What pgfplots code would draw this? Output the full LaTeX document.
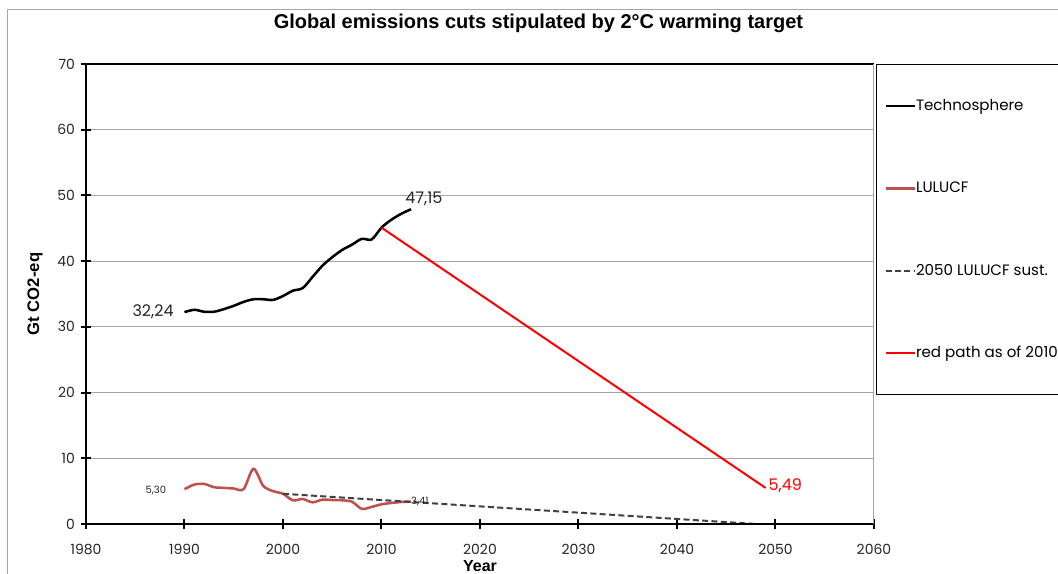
\documentclass[border=0pt]{standalone}
\usepackage{pgfplots}
\pgfplotsset{compat=1.18}
\usepackage{fontspec}
\setmainfont{Poppins}
\newfontfamily\arialfont{Liberation Sans}
\definecolor{lul}{HTML}{C0504D}
\definecolor{gridgray}{HTML}{A6A6A6}
\definecolor{dashgray}{HTML}{404040}
\begin{document}
\begin{tikzpicture}[x=1pt,y=1pt]
\useasboundingbox (0,0) rectangle (793.5,430.5);
\clip (0,0) rectangle (793.5,430.5);
\draw[gridgray, line width=0.75pt] (5.25,-10) rectangle (820,423);
\begin{axis}[
  at={(64.5pt,37.5pt)}, anchor=south west,
  scale only axis, width=591pt, height=345pt,
  xmin=1980, xmax=2060, ymin=0, ymax=70,
  xtick={1980,1990,...,2060}, ytick={0,10,...,70},
  ymajorgrids, major grid style={gridgray, line width=0.75pt},
  axis line style={draw=none},
  tick align=center, major tick length=7.5pt,
  tick style={black, line width=1.5pt},
  xtick pos=bottom, ytick pos=left,
  ticklabel style={font=\fontsize{10.5}{12}\selectfont, text=black!85},
  xticklabel style={yshift=-8pt},
  yticklabel style={xshift=-1pt},
  /pgf/number format/assume math mode=true,
  /pgf/number format/1000 sep={},
  xlabel={Year}, ylabel={Gt CO2-eq},
  xlabel style={at={(axis description cs:0.5,-0.0913)}, anchor=center, font=\arialfont\bfseries\fontsize{12}{14}\selectfont},
  ylabel style={at={(axis description cs:-0.0647,0.5)}, anchor=center, font=\arialfont\bfseries\fontsize{12.5}{14}\selectfont},
  title={Global emissions cuts stipulated by 2°C warming target},
  title style={at={(axis description cs:0.5742,1.0717)}, anchor=center, font=\arialfont\bfseries\fontsize{15}{17}\selectfont},
  legend image code/.code={\draw[#1] (0pt,0pt) -- (21.75pt,0pt);},
  legend cell align=left,
  legend style={at={(axis description cs:1.0025,1)}, anchor=north west, draw=black, line width=0.75pt, fill=white,
    inner xsep=6pt, inner ysep=0.35pt, row sep=0pt, column sep=0pt,
    font=\fontsize{11.3}{13}\selectfont,
    nodes={inner sep=0pt, minimum height=61.7pt}},
  clip=false,
]
\addplot[black, line width=1.9pt, smooth, tension=0.5] coordinates {
(1990,32.24) (1991,32.6) (1992,32.3) (1993,32.3) (1994,32.7) (1995,33.2)
(1996,33.8) (1997,34.2) (1998,34.2) (1999,34.1) (2000,34.7) (2001,35.5)
(2002,35.9) (2003,37.6) (2004,39.3) (2005,40.6) (2006,41.7) (2007,42.5)
(2008,43.4) (2009,43.3) (2010,45.1) (2011,46.3) (2012,47.2) (2013,47.9)};
\addlegendentry{\makebox[150pt][l]{Technosphere}}
\addplot[lul, line width=1.9pt, smooth, tension=0.5] coordinates {
(1990,5.3) (1991,6.0) (1992,6.1) (1993,5.6) (1994,5.5) (1995,5.4)
(1996,5.3) (1997,8.4) (1998,5.8) (1999,5.0) (2000,4.6) (2001,3.6)
(2002,3.8) (2003,3.3) (2004,3.7) (2005,3.65) (2006,3.6) (2007,3.4)
(2008,2.3) (2009,2.6) (2010,3.0) (2011,3.2) (2012,3.35) (2013,3.41)};
\addlegendentry{\makebox[150pt][l]{LULUCF}}
\addplot[dashgray, line width=1.5pt, dash pattern=on 4.5pt off 2.5pt] coordinates {
(2000,4.6) (2048,0)};
\addlegendentry{\makebox[150pt][l]{2050 LULUCF sust.}}
\addplot[red, line width=1.5pt] coordinates {(2010,45.1) (2049,5.49)};
\addlegendentry{\makebox[150pt][l]{red path as of 2010}}
\draw[black, line width=1.5pt] (rel axis cs:0,0) -- (rel axis cs:1,0);
\draw[black, line width=1.5pt] (rel axis cs:0,0) -- (rel axis cs:0,1);
\draw[black, line width=1pt] (rel axis cs:0,1) -- (rel axis cs:1,1);
\draw[gridgray, line width=0.75pt] (rel axis cs:1,0) -- (rel axis cs:1,1);
\node[anchor=east, inner sep=0pt, xshift=-8pt, font=\fontsize{12}{14}\selectfont, text=black!85] at (axis cs:1990,32.24) {32,24};
\node[inner sep=0pt, font=\fontsize{12}{14}\selectfont, text=black!85] at (axis cs:2014.3,49.5) {47,15};
\node[inner sep=0pt, font=\fontsize{7.5}{8}\selectfont, text=black!85] at (axis cs:1987.1,5.02) {5,30};
\node[inner sep=0pt, font=\fontsize{7.5}{8}\selectfont, text=black!85] at (axis cs:2013.9,3.35) {3,41};
\node[inner sep=0pt, font=\fontsize{12}{14}\selectfont, text=red] at (axis cs:2051,5.78) {5,49};
\end{axis}
\end{tikzpicture}
\end{document}
